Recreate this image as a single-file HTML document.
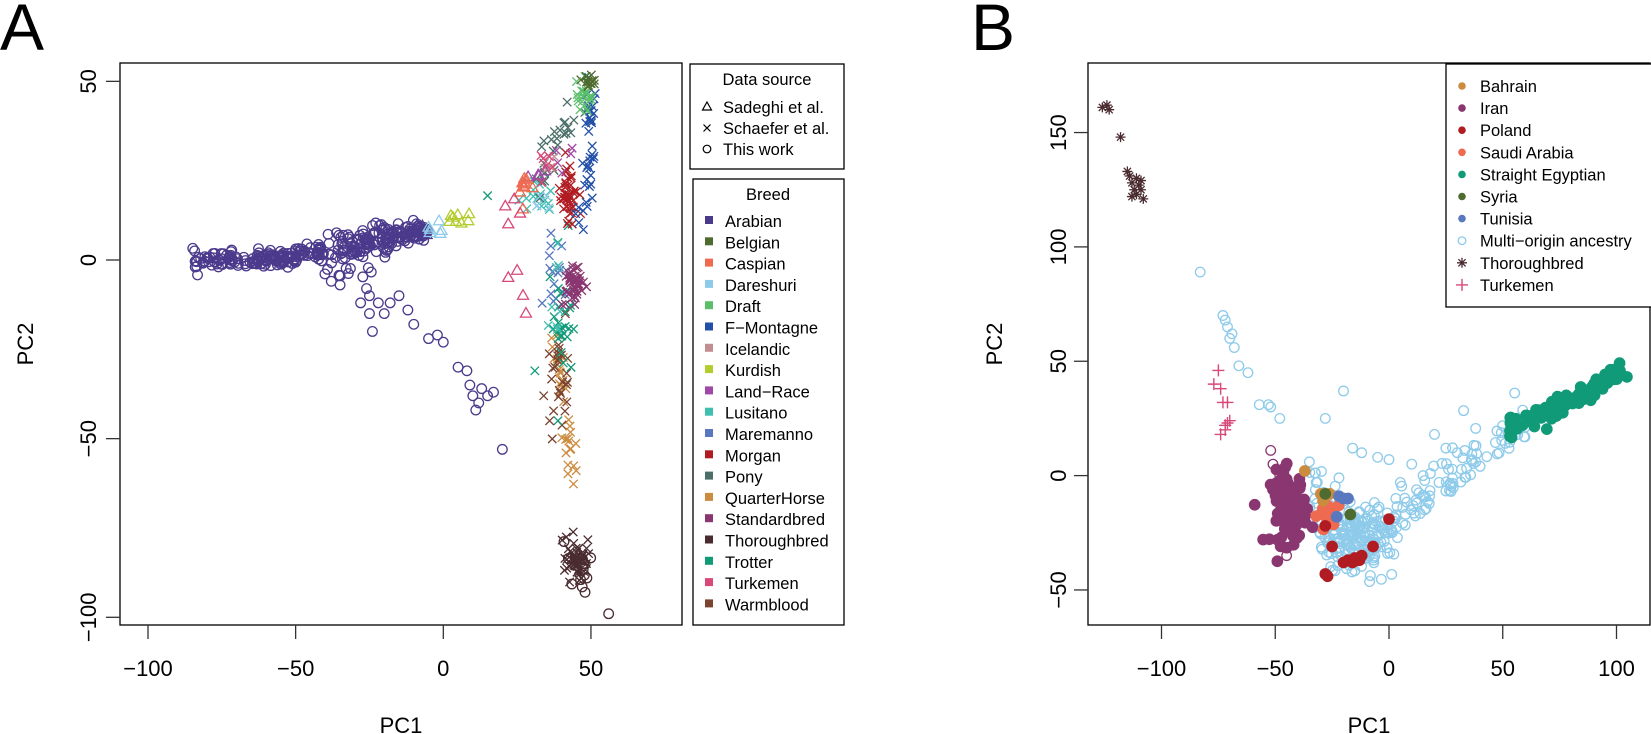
<!DOCTYPE html>
<html><head><meta charset="utf-8">
<style>
html,body{margin:0;padding:0;background:#fff;}
svg{display:block;}
text{font-family:"Liberation Sans",Arial,sans-serif;fill:#000;}
</style></head>
<body>
<svg id="s" xmlns="http://www.w3.org/2000/svg" width="1651" height="734" viewBox="0 0 1651 734">
<defs>
<clipPath id="ca"><rect x="120" y="63" width="562" height="562"/></clipPath>
<clipPath id="cb"><rect x="1088" y="63" width="562" height="562"/></clipPath>
</defs>
<text x="0" y="50" font-size="66">A</text>
<text x="971" y="50" font-size="66">B</text>
<g id="ga" clip-path="url(#ca)"></g>
<g id="gb" clip-path="url(#cb)"></g>
<g id="axes" stroke="#000" fill="none" stroke-width="1.3">
<rect x="120" y="63" width="562" height="562"/>
<rect x="1088" y="63" width="562" height="562"/>
</g>
<g id="ax" stroke="#333" stroke-width="1.3"></g>
<g id="tx" font-size="22"></g>
<rect x="690" y="64" width="154" height="105" fill="#fff" stroke="#000" stroke-width="1.3"/>
<text x="767" y="85" font-size="16.5" text-anchor="middle">Data source</text>
<g font-size="16.5">
<text x="723" y="113">Sadeghi et al.</text>
<text x="723" y="134">Schaefer et al.</text>
<text x="723" y="155">This work</text>
</g>
<g stroke="#000" stroke-width="1.2" fill="none">
<polygon points="707,102 711.5,110 702.5,110"/>
<path d="M703.5,124.5 L710.5,131.5 M710.5,124.5 L703.5,131.5"/>
<circle cx="707" cy="149" r="3.8"/>
</g>
<rect x="693" y="179" width="151" height="446" fill="#fff" stroke="#000" stroke-width="1.3"/>
<text x="768" y="200" font-size="16.5" text-anchor="middle">Breed</text>
<g id="lb" font-size="16.5"></g>
<rect x="1446" y="64" width="206" height="243" fill="#fff" stroke="#000" stroke-width="1.3"/>
<g id="lbb" font-size="16.5"></g>
</svg>
<script>
(function(){
var NS="http://www.w3.org/2000/svg";
function el(p,t,a){var e=document.createElementNS(NS,t);for(var k in a)e.setAttribute(k,a[k]);p.appendChild(e);return e;}
var seed=12345;function rnd(){seed=(seed*1103515245+12345)%2147483648;return seed/2147483648;}
function gn(){var u=rnd()||1e-6,v=rnd();return Math.sqrt(-2*Math.log(u))*Math.cos(2*Math.PI*v);}
var C={Arabian:"#4b3a8c",Belgian:"#4e6b30",Caspian:"#ee6a50",Dareshuri:"#8ecbea",Draft:"#5abf6a",FM:"#2250a8",Icelandic:"#c48d92",Kurdish:"#b5cc30",Land:"#a048a8",Lusitano:"#3fbfb0",Maremanno:"#5a78c0",Morgan:"#b01c22",Pony:"#4a6e68",QH:"#cc8c40",Std:"#8a3670",Thor:"#4a2c30",Trotter:"#119a78",Turk:"#d84878",Warm:"#7a4430"};
var ga=document.getElementById('ga'),gb=document.getElementById('gb');
function AX(v){return 443.3+2.953*v;}function AY(v){return 260-3.573*v;}
function BX(v){return 1389+2.275*v;}function BY(v){return 475.6-2.287*v;}
function circ(g,x,y,c,f){el(g,'circle',{cx:x,cy:y,r:f?5.2:4.8,fill:f?c:'none',stroke:c,'stroke-width':1.3});}
function tri(g,x,y,c){el(g,'polygon',{points:(x)+','+(y-6)+' '+(x+5.5)+','+(y+3.5)+' '+(x-5.5)+','+(y+3.5),fill:'none',stroke:c,'stroke-width':1.3});}
function crs(g,x,y,c){el(g,'path',{d:'M'+(x-4.2)+','+(y-4.2)+'L'+(x+4.2)+','+(y+4.2)+'M'+(x+4.2)+','+(y-4.2)+'L'+(x-4.2)+','+(y+4.2),stroke:c,'stroke-width':1.3});}
function ast(g,x,y,c){el(g,'path',{d:'M'+(x-5)+','+y+'L'+(x+5)+','+y+'M'+x+','+(y-5)+'L'+x+','+(y+5)+'M'+(x-3.6)+','+(y-3.6)+'L'+(x+3.6)+','+(y+3.6)+'M'+(x+3.6)+','+(y-3.6)+'L'+(x-3.6)+','+(y+3.6),stroke:c,'stroke-width':1.3});}
function pls(g,x,y,c){el(g,'path',{d:'M'+(x-6)+','+y+'L'+(x+6)+','+y+'M'+x+','+(y-6)+'L'+x+','+(y+6),stroke:c,'stroke-width':1.4});}
function A(fn,c,x,y){fn(ga,AX(x),AY(y),c);}
var i,x,y;
for(i=0;i<330;i++){x=-85+80*Math.pow(rnd(),0.85);var sd=(x>-40&&x<-18)?2.2:1.2;y=Math.max(0,x+58)*0.16+gn()*sd;A(circ,C.Arabian,x,y);}
for(i=0;i<12;i++){x=-33+gn()*5;y=-3+gn()*2;A(circ,C.Arabian,x,y);}
var tail=[[-25,-10],[-22,-12],[-26,-8],[-20,-15],[-18,-12],[-10,-18],[-15,-10],[-5,-22],[-2,-21],[0,-23],[5,-30],[8,-31],[9,-35],[10,-38],[12,-40],[11,-42],[13,-36],[15,-38],[17,-37],[20,-53],[-25,-15],[-24,-20],[-28,-12],[-12,-14]];
tail.forEach(function(p){A(circ,C.Arabian,p[0],p[1]);});
for(i=0;i<6;i++)A(tri,C.Arabian,-9+rnd()*5,6+rnd()*4);
for(i=0;i<6;i++)A(tri,C.Dareshuri,-5+rnd()*6,7+rnd()*4);
for(i=0;i<8;i++)A(tri,C.Kurdish,0+rnd()*9,10+rnd()*3);
for(i=0;i<45;i++)A(crs,C.Thor,45+gn()*1.8,-84+gn()*3.5);
for(i=0;i<12;i++)A(circ,C.Thor,46+gn()*2,-86+gn()*4);
A(circ,C.Thor,56,-99);A(circ,C.Thor,48,-93);
for(i=0;i<35;i++){var t=rnd();A(crs,C.QH,37+t*8+gn()*1.2,-20-t*45+gn()*2);}
for(i=0;i<25;i++)A(crs,C.Warm,39+gn()*2,-33+gn()*6);
for(i=0;i<30;i++)A(crs,C.Trotter,40+gn()*2,-18+gn()*9);
for(i=0;i<15;i++)A(crs,C.Maremanno,38+gn()*2.5,-2+gn()*4);
for(i=0;i<15;i++)A(crs,C.Lusitano,32+gn()*3,18+gn()*2.5);
for(i=0;i<8;i++)A(crs,C.Lusitano,38+gn()*2,-10+gn()*8);
for(i=0;i<45;i++)A(crs,C.Std,44+gn()*1.8,-7+gn()*3);
for(i=0;i<45;i++)A(crs,C.Morgan,42+gn()*1.6,18+gn()*4.5);
for(i=0;i<25;i++){var t2=rnd();A(crs,C.Pony,30+t2*18+gn(),20+t2*25+gn()*2.5);}
for(i=0;i<40;i++){var t3=rnd();A(crs,C.FM,47+t3*4+gn()*1.2,10+t3*35+gn()*3);}
for(i=0;i<18;i++)A(crs,C.Draft,48+gn()*1.8,46+gn()*2.5);
for(i=0;i<12;i++)A(crs,C.Belgian,50+gn()*1.2,50+gn()*1.2);
for(i=0;i<5;i++)A(crs,C.Icelandic,36+gn()*2,28+gn()*2);
for(i=0;i<4;i++)A(tri,C.Land,32+gn()*2,24+gn()*2);
for(i=0;i<5;i++)A(crs,C.Land,38+gn()*3,30+gn()*3);
for(i=0;i<10;i++)A(tri,C.Caspian,27+gn()*1.8,20+gn()*2);
[[22,10],[26,13],[24,17],[25,-3],[22,-5],[27,-10],[28,-15],[21,15]].forEach(function(p){A(tri,C.Turk,p[0],p[1]);});
for(i=0;i<6;i++)A(crs,C.Turk,35+gn()*2,26+gn()*2);
for(i=0;i<5;i++)A(crs,C.Dareshuri,34+gn()*2,16+gn()*2);
A(crs,C.Trotter,15,18);A(crs,C.Trotter,31,-31);A(crs,C.Warm,34,-38);A(crs,C.Warm,36,-45);
function B(fn,c,x,y,f){fn(gb,BX(x),BY(y),c,f);}
var mo=[[-83,89],[-73,70],[-72,68],[-71,65],[-70,60],[-69,62],[-68,56],[-66,48],[-62,45],[-57,31],[-53,31],[-52,30],[-48,25],[-20,37],[-28,25],[-35,6],[-32,-3],[-22,-1],[-16,12],[-12,10],[-5,8],[0,7],[5,-3],[3,-10],[10,5],[20,18],[25,12],[30,10],[22,-3],[15,0]];
mo.forEach(function(p){B(circ,C.Dareshuri,p[0],p[1]);});
for(i=0;i<170;i++){x=-15+gn()*8;y=-28+gn()*7;B(circ,C.Dareshuri,x,y);}
for(i=0;i<110;i++){var u=rnd();x=-10+u*70;y=-32+u*52+Math.abs(gn())*9-3;B(circ,C.Dareshuri,x,y);}
for(i=0;i<30;i++){x=-35+rnd()*25;y=-15+gn()*10;B(circ,C.Dareshuri,x,y);}
for(i=0;i<110;i++){var v=rnd();x=52+v*53;y=20+(x-52)*0.47+gn()*2.5;B(circ,C.Trotter,x,y,1);}
for(i=0;i<85;i++)B(circ,C.Std,-44+gn()*4,-14+gn()*8,1);
B(circ,C.Std,-52,11);B(circ,C.Std,-51,5);B(circ,C.Std,-48,0);B(circ,C.Std,-45,-35);
for(i=0;i<18;i++)B(circ,C.Caspian,-26+gn()*2.5,-17+gn()*3,1);
[[-37,2],[-30,-8],[-26,-8],[-29,-11]].forEach(function(p){B(circ,C.QH,p[0],p[1],1);});
[[-20,-10],[-18,-10],[-22,-9],[-23,-18]].forEach(function(p){B(circ,C.Maremanno,p[0],p[1],1);});
[[-28,-8],[-17,-17]].forEach(function(p){B(circ,C.Belgian,p[0],p[1],1);});
[[-28,-43],[-27,-44],[-20,-38],[-18,-37],[-15,-36],[-12,-35],[-7,-31],[0,-19],[-28,-22],[-25,-31],[-16,-38],[-13,-37]].forEach(function(p){B(circ,C.Morgan,p[0],p[1],1);});
[[-126,161],[-124,162],[-123,160],[-118,148],[-115,133],[-114,131],[-113,128],[-112,125],[-111,123],[-110,127],[-109,125],[-108,121],[-113,122],[-111,130],[-109,129]].forEach(function(p){B(ast,C.Thor,p[0],p[1]);});
[[-77,40],[-75,46],[-74,38],[-73,32],[-71,32],[-72,22],[-70,24],[-74,18],[-72,20],[-71,23]].forEach(function(p){B(pls,C.Turk,p[0],p[1]);});
var ax=document.getElementById('ax'),tx=document.getElementById('tx');
function line(a,b,c,d){el(ax,'line',{x1:a,y1:b,x2:c,y2:d});}
function txt(x,y,s,rot){var t=el(tx,'text',{x:x,y:y,'text-anchor':'middle'});if(rot)t.setAttribute('transform','rotate(-90 '+x+' '+y+')');t.textContent=s;}
[-100,-50,0,50].forEach(function(v){var X=AX(v);line(X,625,X,639);txt(X,676,(v<0?'\u2212':'')+Math.abs(v));});
[50,0,-50,-100].forEach(function(v){var Y=AY(v);line(106,Y,120,Y);txt(96,Y,(v<0?'\u2212':'')+Math.abs(v),1);});
[-100,-50,0,50,100].forEach(function(v){var X=BX(v);line(X,625,X,639);txt(X,676,(v<0?'\u2212':'')+Math.abs(v));});
[150,100,50,0,-50].forEach(function(v){var Y=BY(v);line(1074,Y,1088,Y);txt(1066,Y,(v<0?'\u2212':'')+Math.abs(v),1);});
txt(401,733,'PC1');txt(1369,733,'PC1');txt(33,344,'PC2',1);txt(1002,344,'PC2',1);
var lb=document.getElementById('lb');
var br=[["Arabian","Arabian"],["Belgian","Belgian"],["Caspian","Caspian"],["Dareshuri","Dareshuri"],["Draft","Draft"],["F\u2212Montagne","FM"],["Icelandic","Icelandic"],["Kurdish","Kurdish"],["Land\u2212Race","Land"],["Lusitano","Lusitano"],["Maremanno","Maremanno"],["Morgan","Morgan"],["Pony","Pony"],["QuarterHorse","QH"],["Standardbred","Std"],["Thoroughbred","Thor"],["Trotter","Trotter"],["Turkemen","Turk"],["Warmblood","Warm"]];
br.forEach(function(b,k){var yb=227+k*21.3;el(lb,'rect',{x:705,y:yb-11,width:8,height:8,fill:C[b[1]]});var t=el(lb,'text',{x:725,y:yb});t.textContent=b[0];});
var lbb=document.getElementById('lbb');
var bl=[["Bahrain",C.QH,'f'],["Iran",C.Std,'f'],["Poland",C.Morgan,'f'],["Saudi Arabia",C.Caspian,'f'],["Straight Egyptian",C.Trotter,'f'],["Syria",C.Belgian,'f'],["Tunisia",C.Maremanno,'f'],["Multi\u2212origin ancestry",C.Dareshuri,'o'],["Thoroughbred",C.Thor,'a'],["Turkemen",C.Turk,'p']];
bl.forEach(function(b,k){var yb=92+k*22.1,cy=yb-6;
 if(b[2]=='f')el(lbb,'circle',{cx:1462,cy:cy,r:3.8,fill:b[1]});
 else if(b[2]=='o')el(lbb,'circle',{cx:1462,cy:cy,r:3.8,fill:'none',stroke:b[1],'stroke-width':1.3});
 else if(b[2]=='a')ast(lbb,1462,cy,b[1]);else pls(lbb,1462,cy,b[1]);
 var t=el(lbb,'text',{x:1480,y:yb});t.textContent=b[0];});
})();
</script>
</body></html>
